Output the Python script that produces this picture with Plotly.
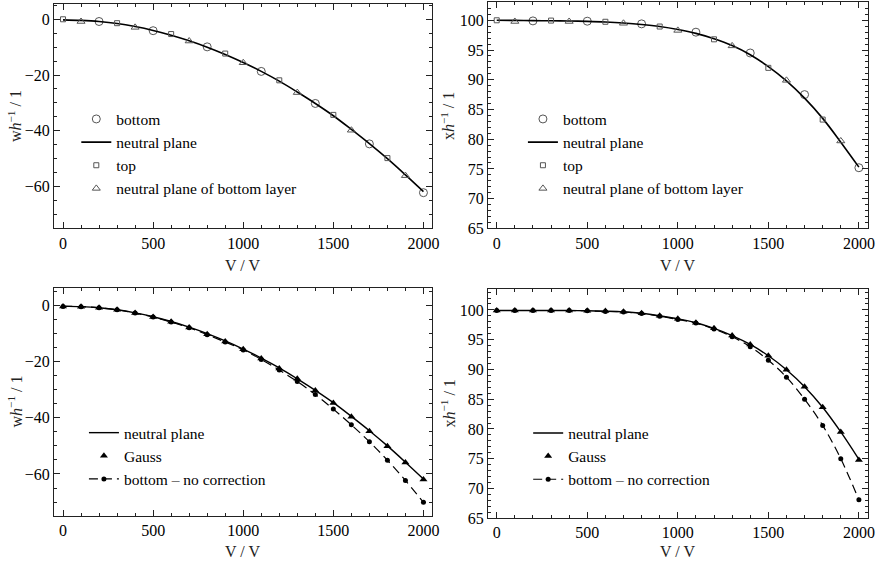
import plotly.graph_objects as go

# ---------------- data ----------------
V = [0, 100, 200, 300, 400, 500, 600, 700, 800, 900, 1000,
     1100, 1200, 1300, 1400, 1500, 1600, 1700, 1800, 1900, 2000]
V_top = [0, 300, 600, 900, 1200, 1500, 1800]
V_nbl = [100, 400, 700, 1000, 1300, 1600, 1900]
V_bot = [200, 500, 800, 1100, 1400, 1700, 2000]

# deflection w/h (top-left)
w_neutral = [-0.2, -0.4, -0.8, -1.5, -2.6, -4.0, -5.7, -7.7, -10.0, -12.6, -15.5,
             -18.7, -22.2, -26.1, -30.2, -34.6, -39.5, -44.6, -50.0, -55.8, -61.8]
w_bottom = [-0.8, -4.1, -9.9, -18.7, -30.2, -44.7, -62.2]
w_top = [0.0, -1.4, -5.3, -12.3, -21.9, -34.3, -49.8]
w_nbl = [-0.8, -2.9, -7.8, -15.6, -26.3, -39.8, -56.1]

# position x/h (top-right)
x_neutral = [100.0, 99.98, 99.95, 99.92, 99.88, 99.82, 99.72, 99.55, 99.3, 98.95, 98.45,
             97.8, 96.9, 95.75, 94.2, 92.2, 89.8, 86.9, 83.5, 79.5, 75.3]
x_bottom = [99.9, 99.85, 99.4, 98.0, 94.5, 87.5, 75.2]
x_top = [100.0, 99.95, 99.75, 98.95, 96.8, 92.0, 83.3]
x_nbl = [99.8, 99.8, 99.5, 98.3, 95.7, 89.9, 79.7]

# bottom-left: Gauss and uncorrected bottom
w_gauss = [-0.3, -0.4, -0.8, -1.5, -2.7, -4.1, -5.8, -7.8, -10.2, -12.8, -15.6,
           -18.9, -22.4, -26.1, -30.3, -34.7, -39.6, -44.8, -50.1, -55.9, -62.0]
w_nocorr = [-0.3, -0.4, -0.8, -1.5, -2.7, -4.1, -5.9, -7.9, -10.4, -13.0, -15.8,
            -19.2, -23.0, -27.1, -31.7, -36.9, -42.5, -48.5, -55.1, -62.3, -70.1]

# bottom-right
x_neutral2 = [99.9, 99.9, 99.9, 99.9, 99.9, 99.85, 99.8, 99.7, 99.45, 99.0, 98.5,
              97.85, 96.9, 95.7, 94.2, 92.3, 89.95, 87.1, 83.65, 79.5, 74.9]
x_gauss = [99.9, 99.9, 99.9, 99.9, 99.9, 99.85, 99.8, 99.7, 99.45, 99.0, 98.5,
           97.85, 96.9, 95.7, 94.2, 92.3, 89.95, 87.1, 83.65, 79.5, 74.8]
x_nocorr = [99.9, 99.9, 99.9, 99.9, 99.9, 99.85, 99.75, 99.65, 99.4, 98.95, 98.4,
            97.8, 96.8, 95.5, 93.8, 91.55, 88.7, 85.0, 80.6, 75.0, 68.1]

# ---------------- figure ----------------
W, H = 884, 574
FONT = "Liberation Serif, Times New Roman, DejaVu Serif, serif"
GRAY = "#555555"

fig = go.Figure()

def tr(**k):
    fig.add_trace(go.Scatter(**k))

# top-left
tr(x=V_bot, y=w_bottom, mode="markers", name="bottom", xaxis="x", yaxis="y", legend="legend",
   marker=dict(symbol="circle-open", size=8, color=GRAY, line=dict(width=1, color=GRAY)))
tr(x=V, y=w_neutral, mode="lines", name="neutral plane", xaxis="x", yaxis="y", legend="legend",
   line=dict(color="black", width=1.6, shape="spline"))
tr(x=V_top, y=w_top, mode="markers", name="top", xaxis="x", yaxis="y", legend="legend",
   marker=dict(symbol="square-open", size=5, color=GRAY, line=dict(width=1, color=GRAY)))
tr(x=V_nbl, y=w_nbl, mode="markers", name="neutral plane of bottom layer", xaxis="x", yaxis="y",
   legend="legend",
   marker=dict(symbol="triangle-up-open", size=7, color=GRAY, line=dict(width=1, color=GRAY)))

# top-right
tr(x=V_bot, y=x_bottom, mode="markers", name="bottom", xaxis="x2", yaxis="y2", legend="legend2",
   marker=dict(symbol="circle-open", size=8, color=GRAY, line=dict(width=1, color=GRAY)))
tr(x=V, y=x_neutral, mode="lines", name="neutral plane", xaxis="x2", yaxis="y2", legend="legend2",
   line=dict(color="black", width=1.6, shape="spline"))
tr(x=V_top, y=x_top, mode="markers", name="top", xaxis="x2", yaxis="y2", legend="legend2",
   marker=dict(symbol="square-open", size=5, color=GRAY, line=dict(width=1, color=GRAY)))
tr(x=V_nbl, y=x_nbl, mode="markers", name="neutral plane of bottom layer", xaxis="x2", yaxis="y2",
   legend="legend2",
   marker=dict(symbol="triangle-up-open", size=7, color=GRAY, line=dict(width=1, color=GRAY)))

# bottom-left
tr(x=V, y=w_neutral, mode="lines", name="neutral plane", xaxis="x3", yaxis="y3", legend="legend3",
   line=dict(color="black", width=1.4, shape="spline"))
tr(x=V, y=w_gauss, mode="markers", name="Gauss", xaxis="x3", yaxis="y3", legend="legend3",
   marker=dict(symbol="triangle-up", size=7, color="black"))
tr(x=V, y=w_nocorr, mode="lines+markers", name="bottom – no correction", xaxis="x3", yaxis="y3",
   legend="legend3", line=dict(color="black", width=1.2, dash="9px,5px", shape="spline"),
   marker=dict(symbol="circle", size=5, color="black"))

# bottom-right
tr(x=V, y=x_neutral2, mode="lines", name="neutral plane", xaxis="x4", yaxis="y4", legend="legend4",
   line=dict(color="black", width=1.4, shape="spline"))
tr(x=V, y=x_gauss, mode="markers", name="Gauss", xaxis="x4", yaxis="y4", legend="legend4",
   marker=dict(symbol="triangle-up", size=7, color="black"))
tr(x=V, y=x_nocorr, mode="lines+markers", name="bottom – no correction", xaxis="x4", yaxis="y4",
   legend="legend4", line=dict(color="black", width=1.2, dash="9px,5px", shape="spline"),
   marker=dict(symbol="circle", size=5, color="black"))

def px_dom_x(a, b):
    return [a / W, b / W]

def px_dom_y(top, bottom):
    return [1 - bottom / H, 1 - top / H]

tickfont = dict(family=FONT, size=16, color="black")

def xax(domain, anchor, rng):
    return dict(domain=domain, anchor=anchor, range=rng, showgrid=False, zeroline=False,
                showline=True, linecolor="#222", linewidth=1, mirror="allticks",
                ticks="inside", ticklen=6, tickcolor="#222", tickwidth=1,
                tick0=0, dtick=500, tickfont=tickfont, ticklabeloverflow="allow",
                minor=dict(ticks="inside", ticklen=3, dtick=100, tick0=0, tickcolor="#222", showgrid=False))

def yax(domain, anchor, rng, dtick, mdtick):
    return dict(domain=domain, anchor=anchor, range=rng, showgrid=False, zeroline=False,
                showline=True, linecolor="#222", linewidth=1, mirror="allticks",
                ticks="inside", ticklen=6, tickcolor="#222", tickwidth=1,
                tick0=0, dtick=dtick, tickfont=tickfont, ticklabeloverflow="allow",
                minor=dict(ticks="inside", ticklen=3, dtick=mdtick, tick0=0, tickcolor="#222", showgrid=False))

L1, R1 = 54.5, 435.5
L2, R2 = 492.5, 875.5

legfont = dict(family=FONT, size=15.5, color="black")

fig.update_layout(
    width=W, height=H,
    margin=dict(l=0, r=0, t=0, b=0),
    paper_bgcolor="white", plot_bgcolor="white",
    font=dict(family=FONT, size=16, color="black"),
    xaxis=xax(px_dom_x(L1, R1), "y", [-50, 2045]),
    yaxis=yax(px_dom_y(4, 232), "x", [-75, 5.5], 20, 5),
    xaxis2=xax(px_dom_x(L2, R2), "y2", [-48, 2048]),
    yaxis2=yax(px_dom_y(2.5, 232), "x2", [65, 103], 5, 1),
    xaxis3=xax(px_dom_x(L1, R1), "y3", [-50, 2045]),
    yaxis3=yax(px_dom_y(293, 524.3), "x3", [-75, 6.1], 20, 5),
    xaxis4=xax(px_dom_x(L2, R2), "y4", [-48, 2048]),
    yaxis4=yax(px_dom_y(293.7, 526.5), "x4", [65, 103.5], 5, 1),
    legend=dict(x=77 / W, y=1 - 104 / H, xanchor="left", yanchor="top", bgcolor="rgba(0,0,0,0)",
                font=legfont, borderwidth=0),
    legend2=dict(x=527.7 / W, y=1 - 104 / H, xanchor="left", yanchor="top", bgcolor="rgba(0,0,0,0)",
                 font=legfont, borderwidth=0),
    legend3=dict(x=84.7 / W, y=1 - 422.7 / H, xanchor="left", yanchor="top", bgcolor="rgba(0,0,0,0)",
                 font=legfont, borderwidth=0),
    legend4=dict(x=533 / W, y=1 - 423 / H, xanchor="left", yanchor="top", bgcolor="rgba(0,0,0,0)",
                 font=legfont, borderwidth=0),
    showlegend=True,
)

ytitle_w = "w<i>h</i><sup>−1</sup> / 1"
ytitle_x = "x<i>h</i><sup>−1</sup> / 1"
ann = [
    (ytitle_w, 15, 118, -90),
    (ytitle_x, 452, 118, -90),
    (ytitle_w, 15, 408, -90),
    (ytitle_x, 452, 410, -90),
    ("V / V", 245, 270, 0),
    ("V / V", 684, 270, 0),
    ("V / V", 245, 560, 0),
    ("V / V", 684, 560, 0),
]
for text, xp, yp, ang in ann:
    fig.add_annotation(text=text, x=xp / W, y=1 - yp / H, xref="paper", yref="paper",
                       showarrow=False, textangle=ang, xanchor="center", yanchor="middle",
                       font=dict(family=FONT, size=16, color="#222"))

fig.write_html("out.html", config={"displayModeBar": False},
               post_script="document.body.style.margin='0';document.body.style.padding='0';")
